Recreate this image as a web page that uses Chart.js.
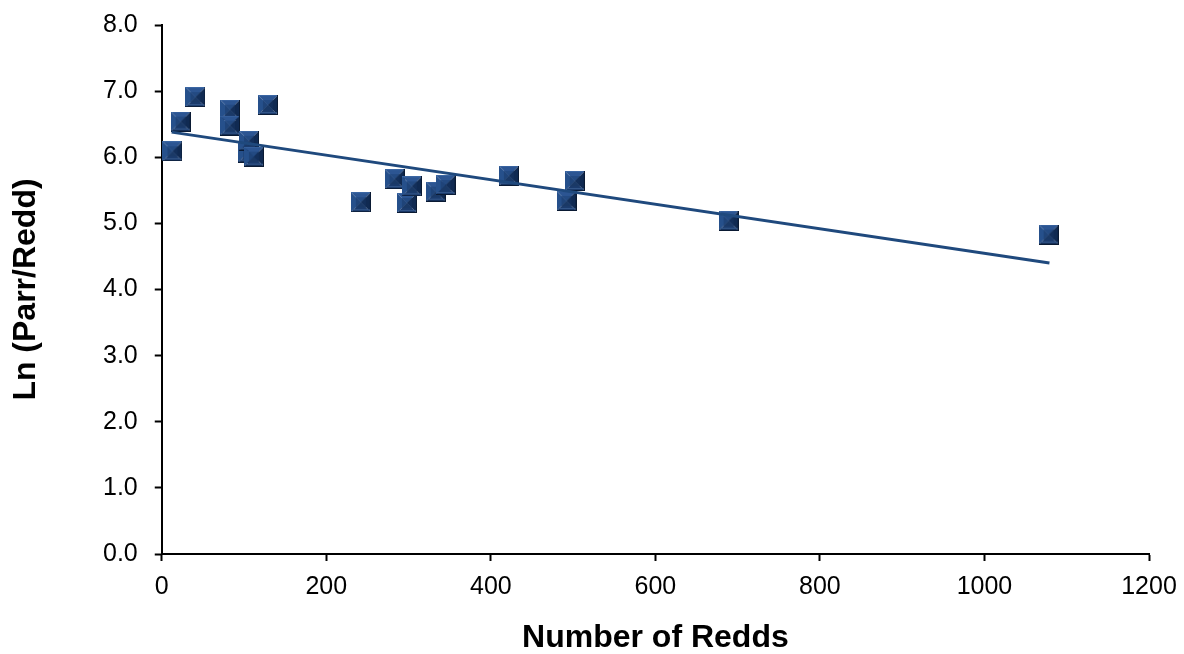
<!DOCTYPE html>
<html>
<head>
<meta charset="utf-8">
<script src="https://cdn.jsdelivr.net/npm/chart.js@4/dist/chart.umd.min.js"></script>
<style>
  body { margin: 0; background: #fff; }
  #wrap { width: 1184px; height: 654px; }
</style>
</head>
<body>
<div id="wrap"><canvas id="chart"></canvas></div>
<script>
// values
const redds = [13, 23, 41, 83, 83, 105, 106, 112, 129, 242, 283, 298, 304, 333, 345, 422, 492, 502, 689, 1078]
const lnParrRedd = [6.09, 6.54, 6.91, 6.72, 6.48, 6.07, 6.25, 6.01, 6.79, 5.32, 5.67, 5.31, 5.56, 5.48, 5.58, 5.72, 5.34, 5.64, 5.04, 4.83]

// trend line end points
const trendX = [12, 1079]
const trendY = [6.38, 4.40]

const xTicks = [0, 200, 400, 600, 800, 1000, 1200]
const yTicks = [0, 1, 2, 3, 4, 5, 6, 7, 8]

const font = "'Liberation Sans', Arial, sans-serif"

// bevelled square marker, like the excel one
function makeMarker(size) {
    const c = document.createElement('canvas')
    c.width = size
    c.height = size
    const g = c.getContext('2d')
    const m = size / 2
    const tri = (pts, col) => {
        g.beginPath()
        g.moveTo(pts[0][0], pts[0][1])
        for (let i = 1; i < pts.length; i++) g.lineTo(pts[i][0], pts[i][1])
        g.closePath()
        g.fillStyle = col
        g.fill()
    }
    tri([[0, 0], [size, 0], [m, m]], '#2c5592')
    tri([[0, 0], [m, m], [0, size]], '#26508b')
    tri([[size, 0], [size, size], [m, m]], '#102a52')
    tri([[0, size], [m, m], [size, size]], '#1b3b6c')
    // darker centre of the pyramid
    const k = 5
    tri([[k, k], [size - k, k], [m, m]], '#234a82')
    tri([[k, k], [m, m], [k, size - k]], '#1f4479')
    tri([[size - k, k], [size - k, size - k], [m, m]], '#132f5a')
    tri([[k, size - k], [m, m], [size - k, size - k]], '#1a3966')
    // light top/bottom strips, dark right edge
    g.fillStyle = '#3b66a3'
    g.fillRect(0, 0, size - 1, 1)
    g.fillStyle = '#34578a'
    g.fillRect(1, size - 3, size - 2, 1)
    g.fillStyle = '#0a1a33'
    g.fillRect(size - 1, 0, 1, size)
    g.fillRect(0, size - 1, size, 1)
    return c
}

const marker = makeMarker(20)

const points = redds.map((x, i) => ({ x: x, y: lnParrRedd[i] }))
const trend = trendX.map((x, i) => ({ x: x, y: trendY[i] }))

const ctx = document.getElementById('chart')

var myChart = new Chart(ctx, {
    type: 'scatter',
    data: {
        datasets: [{
            data: trend,
            showLine: true,
            borderColor: '#1f497d',
            borderWidth: 3,
            pointRadius: 0,
            order: 0
        }, {
            data: points,
            pointStyle: marker,
            pointRadius: 10,
            order: 1
        }]
    },
    options: {
        responsive: true,
        maintainAspectRatio: false,
        animation: false,
        layout: {
            padding: { left: 0, right: 35, top: 25, bottom: 0 }
        },
        plugins: {
            legend: { display: false },
            tooltip: { enabled: false }
        },
        scales: {
            x: {
                type: 'linear',
                min: 0,
                max: 1200,
                afterBuildTicks: (axis) => { axis.ticks = xTicks.map(v => ({ value: v })) },
                // let the layout padding decide the right edge
                afterFit: (axis) => { axis.paddingRight = 0; axis.paddingLeft = 0 },
                ticks: {
                    color: '#000',
                    padding: 11,
                    font: { family: font, size: 25 },
                    callback: (v) => String(v)
                },
                grid: {
                    drawOnChartArea: false,
                    drawTicks: true,
                    tickLength: 7,
                    tickWidth: 2,
                    tickColor: '#000'
                },
                border: { display: true, color: '#000', width: 2 },
                title: {
                    display: true,
                    text: 'Number of Redds',
                    color: '#000',
                    font: { family: font, size: 32, weight: 'bold', lineHeight: 1 },
                    padding: { top: 9, bottom: 0 }
                }
            },
            y: {
                min: 0,
                max: 8,
                afterBuildTicks: (axis) => { axis.ticks = yTicks.map(v => ({ value: v })) },
                afterFit: (axis) => { axis.paddingTop = 0; axis.paddingBottom = 0 },
                ticks: {
                    color: '#000',
                    padding: 17,
                    font: { family: font, size: 25 },
                    callback: (v) => Number(v).toFixed(1)
                },
                grid: {
                    drawOnChartArea: false,
                    drawTicks: true,
                    tickLength: 7,
                    tickWidth: 2,
                    tickColor: '#000'
                },
                border: { display: true, color: '#000', width: 2 },
                title: {
                    display: true,
                    text: 'Ln (Parr/Redd)',
                    color: '#000',
                    font: { family: font, size: 32, weight: 'bold', lineHeight: 1 },
                    padding: { top: 10, bottom: 44 }
                }
            }
        }
    }
});
</script>
</body>
</html>
